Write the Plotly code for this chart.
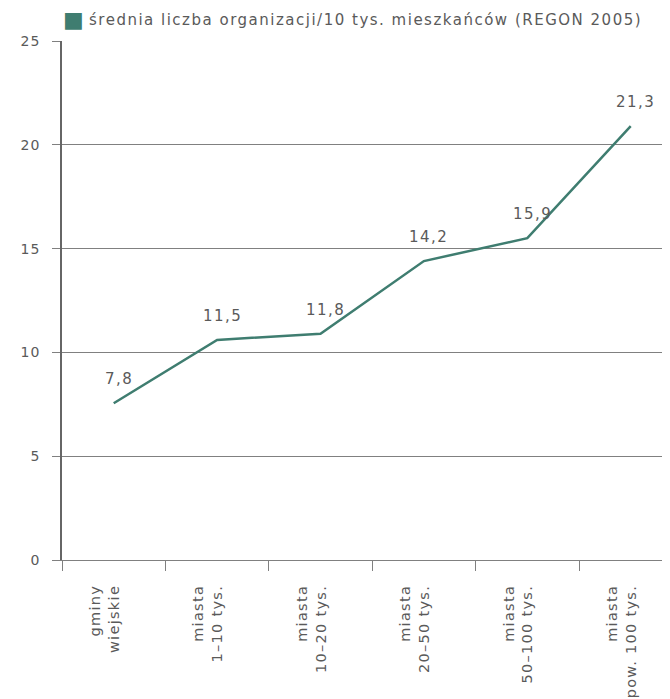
import plotly.graph_objects as go

categories = ["gminy<br>wiejskie", "miasta<br>1–10 tys.", "miasta<br>10–20 tys.",
              "miasta<br>20–50 tys.", "miasta<br>50–100 tys.", "miasta<br>pow. 100 tys."]
line_values = [7.55, 10.6, 10.9, 14.4, 15.5, 20.9]
label_texts = ["7,8", "11,5", "11,8", "14,2", "15,9", "21,3"]
series_name = "średnia liczba organizacji/10 tys. mieszkańców (REGON 2005)"
y_ticks = [0, 5, 10, 15, 20, 25]

LINE_COLOR = "#3f7d70"
GRID = "#808080"
TEXT = "#5a5a5a"
FONT = "DejaVu Sans, Arial, sans-serif"


def spaced(s, px):
    return "<br>".join("<span style='letter-spacing:%spx'>%s</span>" % (px, part)
                       for part in s.split("<br>"))


fig = go.Figure()
fig.add_trace(go.Scatter(
    x=categories, y=line_values, mode="lines", name=series_name,
    line=dict(color=LINE_COLOR, width=2.5), showlegend=False,
))

for c, v, t in zip(categories, line_values, label_texts):
    fig.add_annotation(x=c, y=v, text=spaced(t, 1.5), showarrow=False, yshift=24, xshift=5,
                       font=dict(family=FONT, size=15, color=TEXT))

fig.add_annotation(xref="paper", yref="paper", x=0.0, y=1.0, yshift=22, xshift=-1,
                   text="■", showarrow=False, xanchor="left", yanchor="middle",
                   font=dict(family=FONT, size=22, color=LINE_COLOR))
fig.add_annotation(xref="paper", yref="paper", x=0.041, y=1.0, yshift=21,
                   text=spaced(series_name, 1.5), showarrow=False, xanchor="left",
                   yanchor="middle", font=dict(family=FONT, size=15, color=TEXT))

fig.update_layout(
    width=662, height=691,
    margin=dict(l=54, r=0, t=33, b=139),
    plot_bgcolor="white", paper_bgcolor="white",
    font=dict(family=FONT, size=14, color=TEXT),
    showlegend=False,
)
fig.update_xaxes(
    type="category", range=[-0.5, 5.38], tickson="boundaries",
    tickvals=categories, ticktext=[spaced(c, 1.3) for c in categories],
    ticks="outside", ticklen=10, tickcolor=GRID, tickwidth=1.2,
    tickangle=-90, showgrid=False, showline=True, linecolor=GRID, linewidth=1.2,
    ticklabelstandoff=18, ticklabelshift=-9,
    tickfont=dict(family=FONT, size=14.5, color=TEXT), automargin=False,
)
fig.update_yaxes(
    range=[0, 25], tickvals=y_ticks, ticktext=[spaced(str(v), 1) for v in y_ticks],
    ticks="outside", ticklen=8, tickcolor=GRID,
    tickwidth=1.2, showgrid=True, gridcolor=GRID, gridwidth=1.2,
    showline=True, linecolor="#666666", linewidth=1.5, zeroline=False,
    ticklabelstandoff=9, tickfont=dict(family=FONT, size=14, color=TEXT), automargin=False,
)

fig.write_html("out.html")
